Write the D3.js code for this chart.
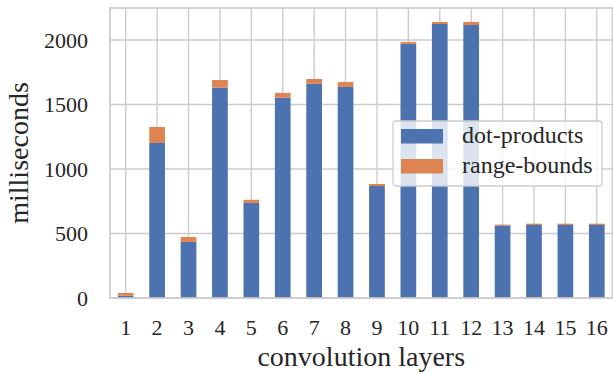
<!DOCTYPE html>
<html>
<head>
<meta charset="utf-8">
<script src="https://cdn.jsdelivr.net/npm/d3@7"></script>
<style>
  body { margin: 0; background: #fff; }
  svg { display: block; font-family: "Liberation Serif", serif; }
</style>
</head>
<body>
<svg id="chart"></svg>
<script>
const width = 613;
const height = 372;

const layers = ['1','2','3','4','5','6','7','8','9','10','11','12','13','14','15','16'];
const dotProducts = [18, 1202, 435, 1630, 737, 1552, 1660, 1636, 868, 1970, 2124, 2116, 562, 566, 566, 566];
const rangeBounds = [21, 124, 38, 60, 24, 38, 38, 38, 16, 15, 16, 24, 7, 10, 10, 10];
const yTicks = [0, 500, 1000, 1500, 2000];
const seriesNames = ['dot-products', 'range-bounds'];
const colors = ['#4c72b0', '#dd8452'];

const margin = { top: 8, right: 0.5, bottom: 74, left: 110 };

const renderChart = () => {
    const svg = d3.select('#chart')
        .attr('width', width)
        .attr('height', height);

    const plotW = width - margin.left - margin.right;
    const plotH = height - margin.top - margin.bottom;

    const x = d3.scaleBand()
        .domain(layers)
        .range([0, plotW])
        .paddingInner(0.5)
        .paddingOuter(0.25);

    const y = d3.scaleLinear()
        .domain([0, 2248])
        .range([plotH, 0]);

    const g = svg.append('g')
        .attr('transform', `translate(${margin.left},${margin.top})`);

    // grid
    g.selectAll('.hgrid')
        .data(yTicks)
        .enter().append('line')
        .attr('x1', 0).attr('x2', plotW)
        .attr('y1', d => y(d)).attr('y2', d => y(d))
        .style('stroke', '#cccccc')
        .style('stroke-width', 1.4);

    g.selectAll('.vgrid')
        .data(layers)
        .enter().append('line')
        .attr('x1', d => x(d) + x.bandwidth() / 2)
        .attr('x2', d => x(d) + x.bandwidth() / 2)
        .attr('y1', 0).attr('y2', plotH)
        .style('stroke', '#cccccc')
        .style('stroke-width', 1.4);

    // stacked bars
    const rows = layers.map((l, i) => ({ layer: l, dot: dotProducts[i], range: rangeBounds[i] }));
    const stack = d3.stack().keys(['dot', 'range'])(rows);

    g.selectAll('.series')
        .data(stack)
        .enter().append('g')
        .attr('fill', (d, i) => colors[i])
        .selectAll('rect')
        .data(d => d)
        .enter().append('rect')
        .attr('x', d => x(d.data.layer))
        .attr('width', x.bandwidth())
        .attr('y', d => y(d[1]))
        .attr('height', d => y(d[0]) - y(d[1]));

    // spines
    g.append('rect')
        .attr('x', 0).attr('y', 0)
        .attr('width', plotW).attr('height', plotH)
        .style('fill', 'none')
        .style('stroke', '#cccccc')
        .style('stroke-width', 1.7);

    // tick labels
    g.selectAll('.ylab')
        .data(yTicks)
        .enter().append('text')
        .attr('x', -22)
        .attr('y', d => y(d))
        .attr('dy', '0.35em')
        .style('text-anchor', 'end')
        .style('font-size', '22px')
        .style('fill', '#262626')
        .text(d => d);

    g.selectAll('.xlab')
        .data(layers)
        .enter().append('text')
        .attr('x', d => x(d) + x.bandwidth() / 2)
        .attr('y', plotH + 37)
        .style('text-anchor', 'middle')
        .style('font-size', '22px')
        .style('fill', '#262626')
        .text(d => d);

    // axis titles
    svg.append('text')
        .attr('x', margin.left + plotW / 2)
        .attr('y', 366)
        .style('text-anchor', 'middle')
        .style('font-size', '28px')
        .style('fill', '#262626')
        .text('convolution layers');

    svg.append('text')
        .attr('transform', `translate(28,${margin.top + plotH / 2}) rotate(-90)`)
        .style('text-anchor', 'middle')
        .style('font-size', '28px')
        .style('fill', '#262626')
        .text('milliseconds');

    // legend
    const legend = svg.append('g').attr('transform', 'translate(393,121)');
    legend.append('rect')
        .attr('width', 209).attr('height', 65)
        .attr('rx', 3)
        .style('fill', 'rgba(255,255,255,0.8)')
        .style('stroke', '#cccccc')
        .style('stroke-width', 1.3);

    const item = legend.selectAll('.item')
        .data(seriesNames)
        .enter().append('g')
        .attr('transform', (d, i) => `translate(8,${8 + i * 30})`);

    item.append('rect')
        .attr('width', 42).attr('height', 14.5)
        .style('fill', (d, i) => colors[i]);

    item.append('text')
        .attr('x', 61)
        .attr('y', 14)
        .style('font-size', '24px')
        .style('fill', '#262626')
        .text(d => d);
}

document.addEventListener('DOMContentLoaded', () => {
    renderChart()
});
</script>
</body>
</html>
